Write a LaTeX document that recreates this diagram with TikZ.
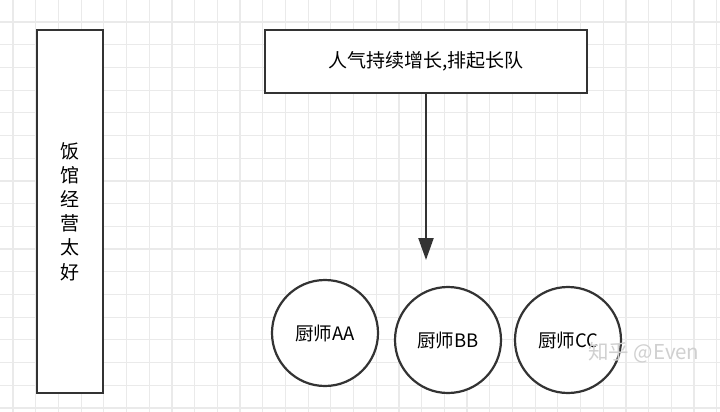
\documentclass[tikz,border=0pt]{standalone}
\usepackage{fontspec}
\setmainfont{Noto Sans CJK SC}
\usepackage{tikz}
\usetikzlibrary{arrows.meta}
\definecolor{ink}{HTML}{333333}
\definecolor{gridline}{HTML}{EAEAEA}
\definecolor{signgray}{HTML}{D0D0D0}

\begin{document}
\begin{tikzpicture}[x=1pt,y=-1pt,
  box/.style={draw=ink,line width=2.2pt,fill=white,inner sep=0pt},
  chef/.style={circle,draw=ink,line width=2.2pt,fill=white,minimum size=106pt,inner sep=0pt,font=\fontsize{18.5}{22}\selectfont}]
  \useasboundingbox (0,0) rectangle (720,412);
  \fill[white] (0,0) rectangle (720,412);
  % grid
  \foreach \i in {0,...,31}
    \draw[gridline,line width=1.2pt] (13+22.7*\i,0) -- (13+22.7*\i,412);
  \foreach \j in {0,...,18}
    \draw[gridline,line width=1.2pt] (0,-0.7+22.7*\j) -- (720,-0.7+22.7*\j);
  % boxes
  \node[box,minimum width=66pt,minimum height=363pt,align=center,
    font=\fontsize{19}{24.2}\selectfont] (shop) at (70,211.5)
    {饭\\馆\\经\\营\\太\\好};
  \node[box,minimum width=322pt,minimum height=63pt,
    font=\fontsize{19}{22}\selectfont] (crowd) at (426,61.5) {人气持续增长,排起长队};
  \coordinate (queue) at (426,260);
  \draw[ink,line width=2.2pt,-{Triangle[length=22pt,width=15pt]}] (crowd.south) -- (queue);
  % chefs
  \node[chef] (chefA) at (325,333) {厨师AA};
  \node[chef] (chefB) at (448,340) {厨师BB};
  \node[chef] (chefC) at (568,340) {厨师CC};
  \node[signgray,anchor=east,font=\fontsize{20.5}{24}\selectfont] (sign) at (703,353) {知乎 @Even};
\end{tikzpicture}
\end{document}
